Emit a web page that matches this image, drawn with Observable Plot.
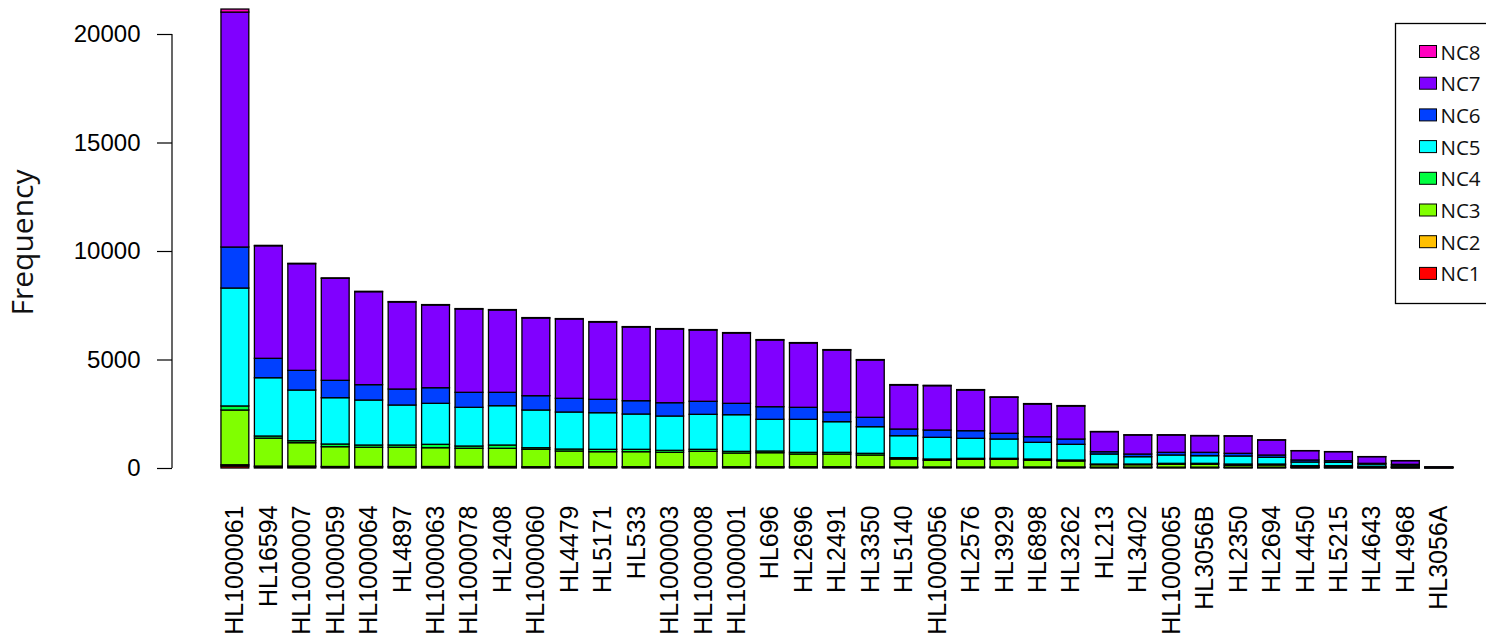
<!DOCTYPE html>
<html>
<head>
<meta charset="utf-8">
<script src="https://cdn.jsdelivr.net/npm/d3@7"></script>
<script src="https://cdn.jsdelivr.net/npm/@observablehq/plot@0.6"></script>
<style>
  html, body { margin: 0; padding: 0; background: #fff; }
  #chart { width: 1486px; height: 639px; overflow: hidden; }
</style>
</head>
<body>
<div id="chart"></div>
<script>
const samples = ["HL1000061","HL16594","HL1000007","HL1000059","HL1000064","HL4897","HL1000063","HL1000078","HL2408","HL1000060","HL4479","HL5171","HL533","HL1000003","HL1000008","HL1000001","HL696","HL2696","HL2491","HL3350","HL5140","HL1000056","HL2576","HL3929","HL6898","HL3262","HL213","HL3402","HL1000065","HL3056B","HL2350","HL2694","HL4450","HL5215","HL4643","HL4968","HL3056A"];

const classes = ["NC1","NC2","NC3","NC4","NC5","NC6","NC7","NC8"];
const classColors = ["#FF0000","#FFBF00","#80FF00","#00FF40","#00FFFF","#0040FF","#8000FF","#FF00BF"];

const nc1 = [90,50,50,40,40,40,40,40,40,35,35,35,35,35,35,35,35,35,35,35,30,30,30,30,30,30,25,25,25,25,25,25,20,20,15,12,8];
const nc2 = [60,40,40,30,30,30,30,30,30,25,25,25,25,25,25,25,25,25,25,25,20,20,20,20,20,20,15,15,15,15,15,15,10,10,10,8,5];
const nc3 = [2523,1285,1076,912,884,884,865,838,838,802,723,691,691,663,709,631,645,585,585,539,365,305,351,351,305,273,112,112,130,130,84,98,50,50,35,25,10];
const nc4 = [187,100,92,124,106,106,157,106,152,73,92,111,111,93,93,78,78,78,78,78,60,60,46,46,60,46,32,32,46,46,60,46,26,26,20,15,5];
const nc5 = [5434,2685,2336,2134,2073,1843,1889,1783,1811,1738,1705,1686,1626,1580,1612,1687,1461,1521,1411,1226,1013,1000,922,889,769,723,461,337,383,351,369,309,170,157,100,70,10];
const nc6 = [1890,895,907,801,707,737,719,691,617,659,632,618,613,613,600,525,581,553,446,433,309,336,350,263,258,244,106,124,124,156,124,106,93,73,36,40,5];
const nc7 = [10826,5185,4913,4700,4284,4010,3811,3839,3793,3580,3654,3562,3396,3396,3285,3240,3073,2963,2857,2641,2028,2041,1875,1659,1507,1521,922,876,798,765,798,691,428,415,305,166,7];
const nc8 = [140,20,20,20,20,20,20,20,20,20,20,20,20,20,20,20,20,20,20,20,20,20,20,20,20,20,10,10,10,10,10,10,5,5,5,5,0];

const yTicks = [0, 5000, 10000, 15000, 20000];
const yLabel = "Frequency";

const series = [nc1, nc2, nc3, nc4, nc5, nc6, nc7, nc8];
const data = samples.flatMap((s, i) => classes.map((c, k) => ({sample: s, cls: c, value: series[k][i]})));

const tickFont = "'Liberation Sans', Arial, Helvetica, sans-serif";
const humanFont = "'Open Sans', 'Noto Sans', sans-serif";

// y axis domain line (from 0 to top tick), drawn at the frame's left edge
const axisLine = (index, scales, values, dims) => {
  const g = d3.create("svg:g");
  g.append("line")
    .attr("x1", dims.marginLeft).attr("x2", dims.marginLeft)
    .attr("y1", scales.y(yTicks[0])).attr("y2", scales.y(yTicks[yTicks.length - 1]))
    .attr("stroke", "black").attr("stroke-width", 1.2);
  return g.node();
};

// y axis title
const yTitle = (index, scales, values, dims) => {
  const yMid = (scales.y(yTicks[0]) + scales.y(yTicks[yTicks.length - 1])) / 2 - 8.5;
  const g = d3.create("svg:g");
  g.append("text")
    .attr("transform", `translate(33,${yMid}) rotate(-90)`)
    .attr("text-anchor", "middle")
    .attr("font-family", humanFont)
    .attr("font-size", 30)
    .attr("fill", "#111")
    .text(yLabel);
  return g.node();
};

// legend box inside the plot, top right
const legend = (index, scales, values, dims) => {
  const g = d3.create("svg:g");
  const left = 1395.5, top = 23.5, boxH = 280;
  g.append("rect")
    .attr("x", left).attr("y", top).attr("width", 120).attr("height", boxH)
    .attr("fill", "white").attr("stroke", "black").attr("stroke-width", 1.3);
  const order = classes.slice().reverse();
  order.forEach((c, i) => {
    const yy = 45.5 + i * 31.7;
    g.append("rect")
      .attr("x", 1419.5).attr("y", yy).attr("width", 17).attr("height", 12)
      .attr("fill", scales.color(c)).attr("stroke", "black").attr("stroke-width", 1);
    g.append("text")
      .attr("x", 1440.5).attr("y", yy + 14)
      .attr("text-anchor", "start")
      .attr("font-family", humanFont).attr("font-size", 20.5)
      .attr("fill", "#111")
      .text(c);
  });
  return g.node();
};

const chart = Plot.plot({
  width: 1486,
  height: 639,
  marginLeft: 172,
  marginRight: 0,
  marginTop: 0,
  marginBottom: 171,
  style: {background: "white", overflow: "hidden"},
  x: {domain: samples, range: [171.7, 1502], paddingInner: 0.1667, paddingOuter: 1.473, align: 0.5, round: false},
  y: {domain: [0, 20000], range: [468, 34]},
  color: {domain: classes, range: classColors},
  marks: [
    Plot.barY(data, {x: "sample", y: "value", fill: "cls", stroke: "black", strokeWidth: 1.3}),
    Plot.axisY({ticks: yTicks, tickSize: 15, tickPadding: 17, tickFormat: d3.format("d"), fontSize: 24, fontFamily: tickFont, label: null, stroke: "black", strokeWidth: 1.2, fill: "black"}),
    Plot.axisX({tickSize: 0, tickPadding: 37, tickRotate: -90, fontSize: 25, fontFamily: tickFont, label: null, fill: "black"}),
    axisLine,
    yTitle,
    legend
  ]
});

document.getElementById("chart").appendChild(chart);
</script>
</body>
</html>
